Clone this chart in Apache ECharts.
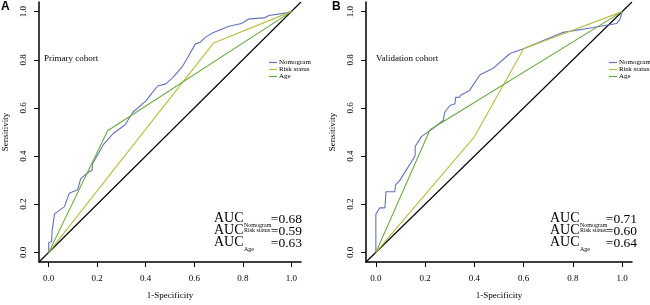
<!DOCTYPE html>
<html lang="en">
<head>
    <meta charset="UTF-8">
    <title>ROC curves</title>
    <script src="https://cdn.jsdelivr.net/npm/echarts@6.0.0/dist/echarts.min.js"></script>
    <style>
        html, body { margin: 0; padding: 0; background: #fff; }
        #main { width: 650px; height: 305px; }
    </style>
</head>
<body>
<div id="main"></div>
<script type="application/javascript">
    // data (x = 1-specificity, y = sensitivity)
    var tickValues = [0, 0.2, 0.4, 0.6, 0.8, 1.0];
    var seriesNames = ['Nomogram', 'Risk status', 'Age'];

    var nomogramA = [[0,0],[0,0.04],[0.012,0.045],[0.014,0.088],[0.022,0.093],[0.024,0.16],[0.065,0.19],
        [0.085,0.246],[0.119,0.26],[0.132,0.306],[0.166,0.335],[0.179,0.34],[0.18,0.367],[0.227,0.45],
        [0.267,0.495],[0.314,0.529],[0.348,0.583],[0.402,0.63],[0.422,0.657],[0.449,0.691],[0.483,0.70],
        [0.51,0.725],[0.551,0.772],[0.571,0.806],[0.605,0.866],[0.625,0.873],[0.645,0.893],[0.679,0.913],
        [0.713,0.927],[0.74,0.938],[0.794,0.951],[0.827,0.97],[0.888,0.974],[0.908,0.984],[0.98,0.995],[1,1]];
    var riskA = [[0,0],[0.68,0.87],[1,1]];
    var ageA = [[0,0],[0.243,0.505],[1,1]];

    var nomogramB = [[0,0],[0,0.158],[0.016,0.185],[0.037,0.185],[0.041,0.252],[0.077,0.252],[0.08,0.28],
        [0.098,0.3],[0.159,0.40],[0.16,0.441],[0.186,0.482],[0.233,0.515],[0.274,0.549],[0.28,0.583],
        [0.301,0.61],[0.321,0.617],[0.324,0.644],[0.339,0.644],[0.344,0.653],[0.379,0.671],[0.423,0.738],
        [0.477,0.765],[0.545,0.826],[0.599,0.846],[0.68,0.88],[0.761,0.914],[0.883,0.934],[0.978,0.951],
        [0.992,0.97],[1,1]];
    var riskB = [[0,0],[0.40,0.48],[0.60,0.846],[1,1]];
    var ageB = [[0,0],[0.22,0.509],[1,1]];

    var diagonal = [[-0.04,-0.04],[1.04,1.04]];
    var aucA = ['0.68', '0.59', '0.63'];
    var aucB = ['0.71', '0.60', '0.64'];

    var colors = ['#6272b9', '#b9bd42', '#68a93f'];
    var serif = '"Liberation Serif", "DejaVu Serif", serif';

    function makeAxis(idx, isX) {
        return {
            type: 'value',
            gridIndex: idx,
            min: -0.04,
            max: 1.04,
            name: isX ? '1-Specificity' : 'Sensitivity',
            nameLocation: 'middle',
            nameGap: isX ? 29 : 29,
            nameTextStyle: { fontFamily: serif, fontSize: 9, color: '#000' },
            axisLine: { show: true, onZero: false, lineStyle: { color: '#000', width: 1.5 } },
            axisTick: { show: true, length: 5, customValues: tickValues, lineStyle: { color: '#000', width: 1 } },
            axisLabel: {
                customValues: tickValues,
                rotate: isX ? 0 : 90,
                margin: isX ? 12 : 11,
                fontFamily: serif, fontSize: 9, color: '#000',
                formatter: function (v) { return v.toFixed(1); }
            },
            splitLine: { show: false }
        };
    }

    function makeSeries(idx, nomo, risk, age) {
        var sets = [nomo, risk, age];
        var out = sets.map(function (d, i) {
            return {
                name: seriesNames[i], type: 'line', xAxisIndex: idx, yAxisIndex: idx,
                data: d, showSymbol: false, symbol: 'none', animation: false,
                lineStyle: { color: colors[i], width: 1.1 }, itemStyle: { color: colors[i] }
            };
        });
        out.push({
            name: 'ref', type: 'line', xAxisIndex: idx, yAxisIndex: idx, data: diagonal,
            showSymbol: false, symbol: 'none', animation: false, z: 1,
            lineStyle: { color: '#000', width: 1.1 }
        });
        return out;
    }

    function makeLegend(left) {
        return {
            left: left, top: 54, orient: 'vertical', data: seriesNames, icon: 'rect',
            itemWidth: 8, itemHeight: 1.2, itemGap: 0, selectedMode: false,
            textStyle: { fontFamily: serif, fontSize: 7, color: '#000', lineHeight: 5.5, padding: [0, 0, 0, -3] }
        };
    }

    function aucText(xLeft, xRight, values) {
        var ys = [219, 231, 243];
        var subs = [['Nomogram', 225], ['Risk status', 230], ['Age', 249]];
        var items = [];
        ys.forEach(function (y, i) {
            items.push({ type: 'text', left: xLeft, top: y - 8,
                style: { text: 'AUC', font: '14px ' + serif, fill: '#000' } });
            items.push({ type: 'text', left: xLeft + 30, top: subs[i][1] - 3,
                style: { text: subs[i][0], font: '6px ' + serif, fill: '#000' } });
            items.push({ type: 'text', right: 650 - xRight, top: y - 7,
                style: { text: '=' + values[i], font: '13.5px ' + serif, fill: '#000' } });
        });
        return items;
    }

    var myChart = echarts.init(document.getElementById('main'));

    var option = {
        animation: false,
        grid: [
            { left: 34, top: 2, width: 267, height: 267 },
            { left: 366, top: 2, width: 266, height: 267 }
        ],
        xAxis: [makeAxis(0, true), makeAxis(1, true)],
        yAxis: [makeAxis(0, false), makeAxis(1, false)],
        legend: [makeLegend(264), makeLegend(604)],
        series: makeSeries(0, nomogramA, riskA, ageA).concat(makeSeries(1, nomogramB, riskB, ageB)),
        graphic: [
            { type: 'text', left: 1, top: 1, style: { text: 'A', font: 'bold 12px "Liberation Sans", Arial, sans-serif', fill: '#000' } },
            { type: 'text', left: 332, top: 1, style: { text: 'B', font: 'bold 12px "Liberation Sans", Arial, sans-serif', fill: '#000' } },
            { type: 'text', left: 44, top: 54, style: { text: 'Primary cohort', font: '9px ' + serif, fill: '#000' } },
            { type: 'text', left: 376, top: 54, style: { text: 'Validation cohort', font: '9px ' + serif, fill: '#000' } }
        ].concat(aucText(214, 302, aucA)).concat(aucText(550, 637, aucB))
    };

    myChart.setOption(option);
</script>
</body>
</html>
